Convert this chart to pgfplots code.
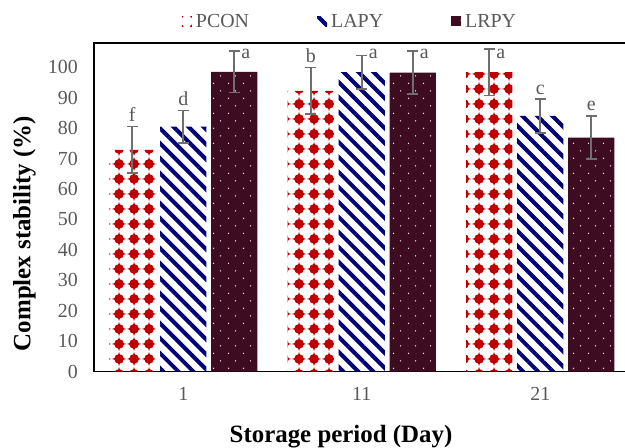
\documentclass[border=0pt]{standalone}
\usepackage{fontspec}
\setmainfont{Liberation Serif}
\usepackage{pgfplots}
\usepackage{pgfplotstable}
\pgfplotsset{compat=1.18}
\usetikzlibrary{patterns,patterns.meta}
\definecolor{pconred}{RGB}{192,0,0}
\definecolor{lapynavy}{RGB}{0,0,120}
\definecolor{lrpymaroon}{RGB}{61,12,33}
\definecolor{dotcol}{RGB}{232,218,224}
\definecolor{txtgray}{RGB}{89,89,89}
\definecolor{errgray}{RGB}{110,110,110}

\tikzdeclarepattern{
  name=pconpat,
  type=uncolored,
  bounding box={(-7.5bp,-7.5bp) and (7.5bp,7.5bp)},
  tile size={(15bp,15bp)},
  code={
    \fill (0,0) circle (5.2bp);
    \fill (7.5bp,0) -- (1.8bp,1.8bp) -- (0,7.5bp) -- (-1.8bp,1.8bp) -- (-7.5bp,0) -- (-1.8bp,-1.8bp) -- (0,-7.5bp) -- (1.8bp,-1.8bp) -- cycle;
  }
}
\tikzdeclarepattern{
  name=dotpat,
  type=uncolored,
  bounding box={(0,0) and (15bp,15.4bp)},
  tile size={(15bp,15.4bp)},
  code={
    \fill (3.75bp,3.85bp) circle (0.8bp);
    \fill (11.25bp,11.55bp) circle (0.8bp);
  }
}

% x = category position, xs = position of the bar within the group
\pgfplotstableread{
x xs y e
0 -0.2857 72.9 7.6
1 0.7143 92.3 7.6
2 1.7143 98.4 7.7
}\pcon
\pgfplotstableread{
x xs y e
0 0 80.5 5.3
1 1 98.4 5.5
2 2 84.0 5.5
}\lapy
\pgfplotstableread{
x xs y e
0 0.2857 98.5 6.8
1 1.2857 98.3 7.0
2 2.2857 76.9 7.1
}\lrpy
\pgfplotstableread{
x y lab
-0.2857 80.5 f
0 85.8 d
0.7143 99.9 b
2 89.5 c
2.2857 84.0 e
}\labs
\pgfplotstableread{
x y lab
0.2857 103 a
1 103 a
1.2857 103 a
1.7143 103 a
}\alabs

\pgfplotsset{
  myerr/.style={forget plot, draw=none, mark=none,
    error bars/.cd, y dir=both, y explicit,
    error bar style={errgray, line width=1.7bp, solid},
    error mark options={rotate=90, errgray, mark size=5.5bp, line width=1.7bp}},
}

\begin{document}
\begin{tikzpicture}
\useasboundingbox (0,0) rectangle (625bp,448bp);
\begin{axis}[
  at={(94bp,76.5bp)}, anchor=south west,
  width=535.5bp, height=328.5bp, scale only axis,
  xmin=-0.5, xmax=2.5, ymin=0, ymax=108,
  xtick={0,1,2}, xticklabels={1,11,21},
  ytick={0,10,...,100},
  major tick length=0pt,
  axis line style={line width=1.3bp, black},
  tick label style={font=\fontsize{20}{20}\selectfont, text=txtgray},
  /pgf/number format/assume math mode=true,
  xticklabel style={inner sep=0pt, anchor=north, yshift=-15.5bp},
  yticklabel style={inner sep=0pt, anchor=east, xshift=-16bp},
  xlabel={Storage period (Day)}, ylabel={Complex stability (\%)},
  label style={font=\bfseries\fontsize{25}{25}\selectfont},
  xlabel style={at={(axis description cs:0.4613,-0.1985)}, anchor=center},
  ylabel style={at={(axis description cs:-0.1298,0.42)}, anchor=center},
  legend style={draw=none, fill=none, inner sep=0pt, outer sep=0pt,
    at={(axis description cs:0.1643,1.066)}, anchor=west,
    font=\fontsize{20}{20}\selectfont, text=txtgray,
    nodes={inner sep=0pt},
    /tikz/every odd column/.append style={column sep=4bp},
    /tikz/every even column/.append style={column sep=68bp}},
  legend columns=3,
  legend image code/.code={\fill[#1] (0bp,-5bp) rectangle (10bp,5bp);},
]
\addplot[ybar, bar width=0.258, bar shift=-0.2857, draw=none,
  pattern=pconpat, pattern color=pconred]
  table[x=x, y=y] {\pcon};
\addlegendentry{PCON}
\addplot[ybar, bar width=0.258, bar shift=0, draw=none,
  pattern={Lines[angle=-45,distance=10.6bp,line width=4bp]}, pattern color=lapynavy]
  table[x=x, y=y] {\lapy};
\addlegendentry{LAPY}
\addplot[ybar, bar width=0.258, bar shift=0.2857, draw=none,
  fill=lrpymaroon, postaction={pattern=dotpat, pattern color=dotcol}]
  table[x=x, y=y] {\lrpy};
\addlegendentry{LRPY}
\addplot[myerr] table[x=xs, y=y, y error=e] {\pcon};
\addplot[myerr] table[x=xs, y=y, y error=e] {\lapy};
\addplot[myerr] table[x=xs, y=y, y error=e] {\lrpy};
\addplot[draw=none, mark=none, forget plot, nodes near coords, point meta=explicit symbolic,
  nodes near coords style={anchor=base, yshift=5bp, inner sep=0pt,
    font=\fontsize{20}{20}\selectfont, text=txtgray}]
  table[x=x, y=y, meta=lab] {\labs};
\addplot[draw=none, mark=none, forget plot, nodes near coords, point meta=explicit symbolic,
  nodes near coords style={anchor=base west, xshift=7bp, inner sep=0pt,
    font=\fontsize{20}{20}\selectfont, text=txtgray}]
  table[x=x, y=y, meta=lab] {\alabs};
\end{axis}
\end{tikzpicture}
\end{document}
